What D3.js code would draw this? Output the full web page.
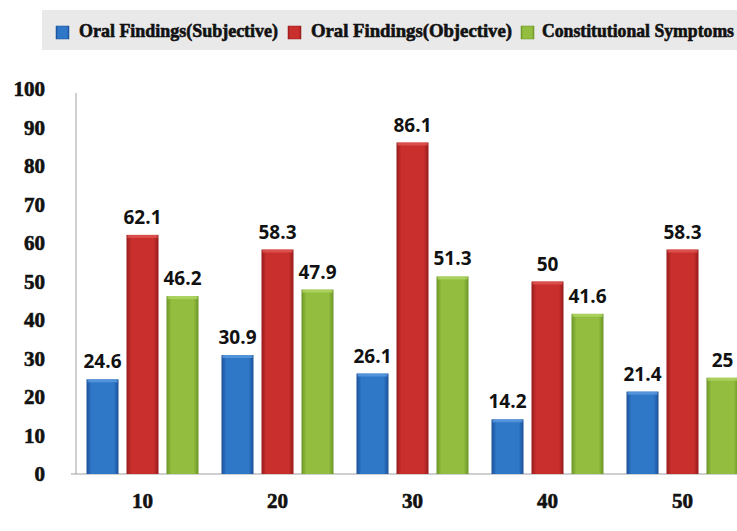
<!DOCTYPE html>
<html>
<head>
<meta charset="utf-8">
<script src="https://cdn.jsdelivr.net/npm/d3@7"></script>
<style>
  body { margin: 0; background: #fff; }
</style>
</head>
<body>
<div id="chart"></div>
<script>
var svgWidth = 737;
var svgHeight = 531;

// data
var groups = ["10", "20", "30", "40", "50"];
var seriesNames = ["Oral Findings(Subjective)", "Oral Findings(Objective)", "Constitutional Symptoms"];
var subjective = [24.6, 30.9, 26.1, 14.2, 21.4];
var objective = [62.1, 58.3, 86.1, 50, 58.3];
var constitutional = [46.2, 47.9, 51.3, 41.6, 25];
var yTicks = [0, 10, 20, 30, 40, 50, 60, 70, 80, 90, 100];

var series = [subjective, objective, constitutional];
var colors = [
  { edge: "#1c4f98", mid: "#2f78c8", light: "#5b9ade" },
  { edge: "#971a1c", mid: "#c92f2d", light: "#de5752" },
  { edge: "#6b9526", mid: "#92bd3e", light: "#b0d664" }
];

var svg = d3.select("#chart")
  .append("svg")
  .attr("width", svgWidth)
  .attr("height", svgHeight);

var defs = svg.append("defs");
colors.forEach(function(c, i) {
  var g = defs.append("linearGradient")
    .attr("id", "grad" + i)
    .attr("x1", "0").attr("x2", "1").attr("y1", "0").attr("y2", "0");
  g.append("stop").attr("offset", "0%").attr("stop-color", c.edge);
  g.append("stop").attr("offset", "15%").attr("stop-color", c.mid);
  g.append("stop").attr("offset", "50%").attr("stop-color", c.mid);
  g.append("stop").attr("offset", "85%").attr("stop-color", c.mid);
  g.append("stop").attr("offset", "100%").attr("stop-color", c.edge);
});

// legend box
svg.append("rect")
  .attr("x", 42).attr("y", 10)
  .attr("width", svgWidth - 42).attr("height", 40)
  .attr("fill", "#e9e9e9");

var legendItems = [
  { sx: 56, tx: 79, tw: 199 },
  { sx: 288, tx: 311, tw: 201 },
  { sx: 521, tx: 542, tw: 192 }
];
legendItems.forEach(function(d, i) {
  svg.append("rect")
    .attr("x", d.sx).attr("y", 26)
    .attr("width", 13).attr("height", 13)
    .attr("fill", "url(#grad" + i + ")")
    .attr("stroke", colors[i].edge)
    .attr("stroke-width", 0.5);
  svg.append("text")
    .attr("x", d.tx).attr("y", 37)
    .attr("textLength", d.tw)
    .attr("lengthAdjust", "spacingAndGlyphs")
    .style("font-family", "'Liberation Serif', serif")
    .style("font-weight", "bold")
    .style("font-size", "18px")
    .attr("fill", "#111")
    .attr("stroke", "#111")
    .attr("stroke-width", 0.6)
    .text(seriesNames[i]);
});

// scales
var y = d3.scaleLinear().domain([0, 100]).range([474, 89]);
var x0 = d3.scaleBand().domain(groups).range([75, 750]);
var x1 = d3.scaleBand().domain([0, 1, 2])
  .range([11.5, x0.bandwidth() - 11.5])
  .paddingInner(0.2);

// axes lines
svg.append("line")
  .attr("x1", 76).attr("x2", 76)
  .attr("y1", y(100) + 4).attr("y2", y(0))
  .attr("stroke", "#a0a0a0").attr("stroke-width", 1);
svg.append("line")
  .attr("x1", 71).attr("x2", svgWidth)
  .attr("y1", y(0)).attr("y2", y(0))
  .attr("stroke", "#a0a0a0").attr("stroke-width", 1);

// y tick labels
svg.selectAll(".ytick")
  .data(yTicks)
  .enter()
  .append("text")
  .attr("class", "ytick")
  .attr("x", 45)
  .attr("y", function(d) { return y(d) + 7; })
  .attr("text-anchor", "end")
  .style("font-family", "'Liberation Serif', serif")
  .style("font-weight", "bold")
  .style("font-size", "21px")
  .attr("fill", "#111")
  .attr("stroke", "#111")
  .attr("stroke-width", 0.6)
  .text(function(d) { return d; });

// x labels
svg.selectAll(".xtick")
  .data(groups)
  .enter()
  .append("text")
  .attr("class", "xtick")
  .attr("x", function(d) { return x0(d) + x0.bandwidth() / 2; })
  .attr("y", 508)
  .attr("text-anchor", "middle")
  .style("font-family", "'Liberation Serif', serif")
  .style("font-weight", "bold")
  .style("font-size", "21px")
  .attr("fill", "#111")
  .attr("stroke", "#111")
  .attr("stroke-width", 0.6)
  .text(function(d) { return d; });

// bars
var groupSel = svg.selectAll(".group")
  .data(groups)
  .enter()
  .append("g")
  .attr("class", "group")
  .attr("transform", function(d) { return "translate(" + x0(d) + ",0)"; });

groupSel.each(function(g, gi) {
  var sel = d3.select(this);
  series.forEach(function(vals, si) {
    var v = vals[gi];
    var bx = x1(si);
    var bw = x1.bandwidth();
    sel.append("rect")
      .attr("x", bx).attr("y", y(v))
      .attr("width", bw).attr("height", y(0) - y(v))
      .attr("fill", "url(#grad" + si + ")");
    // bevel on top
    sel.append("rect")
      .attr("x", bx + 1).attr("y", y(v))
      .attr("width", bw - 2).attr("height", 3)
      .attr("fill", colors[si].light)
      .attr("opacity", 0.8);
    sel.append("text")
      .attr("x", bx + bw / 2)
      .attr("y", y(v) - 11)
      .attr("text-anchor", "middle")
      .style("font-family", "'Open Sans', sans-serif")
      .style("font-weight", "bold")
      .style("font-size", "19px")
      .attr("fill", "#111")
      .text(v);
  });
});
</script>
</body>
</html>
